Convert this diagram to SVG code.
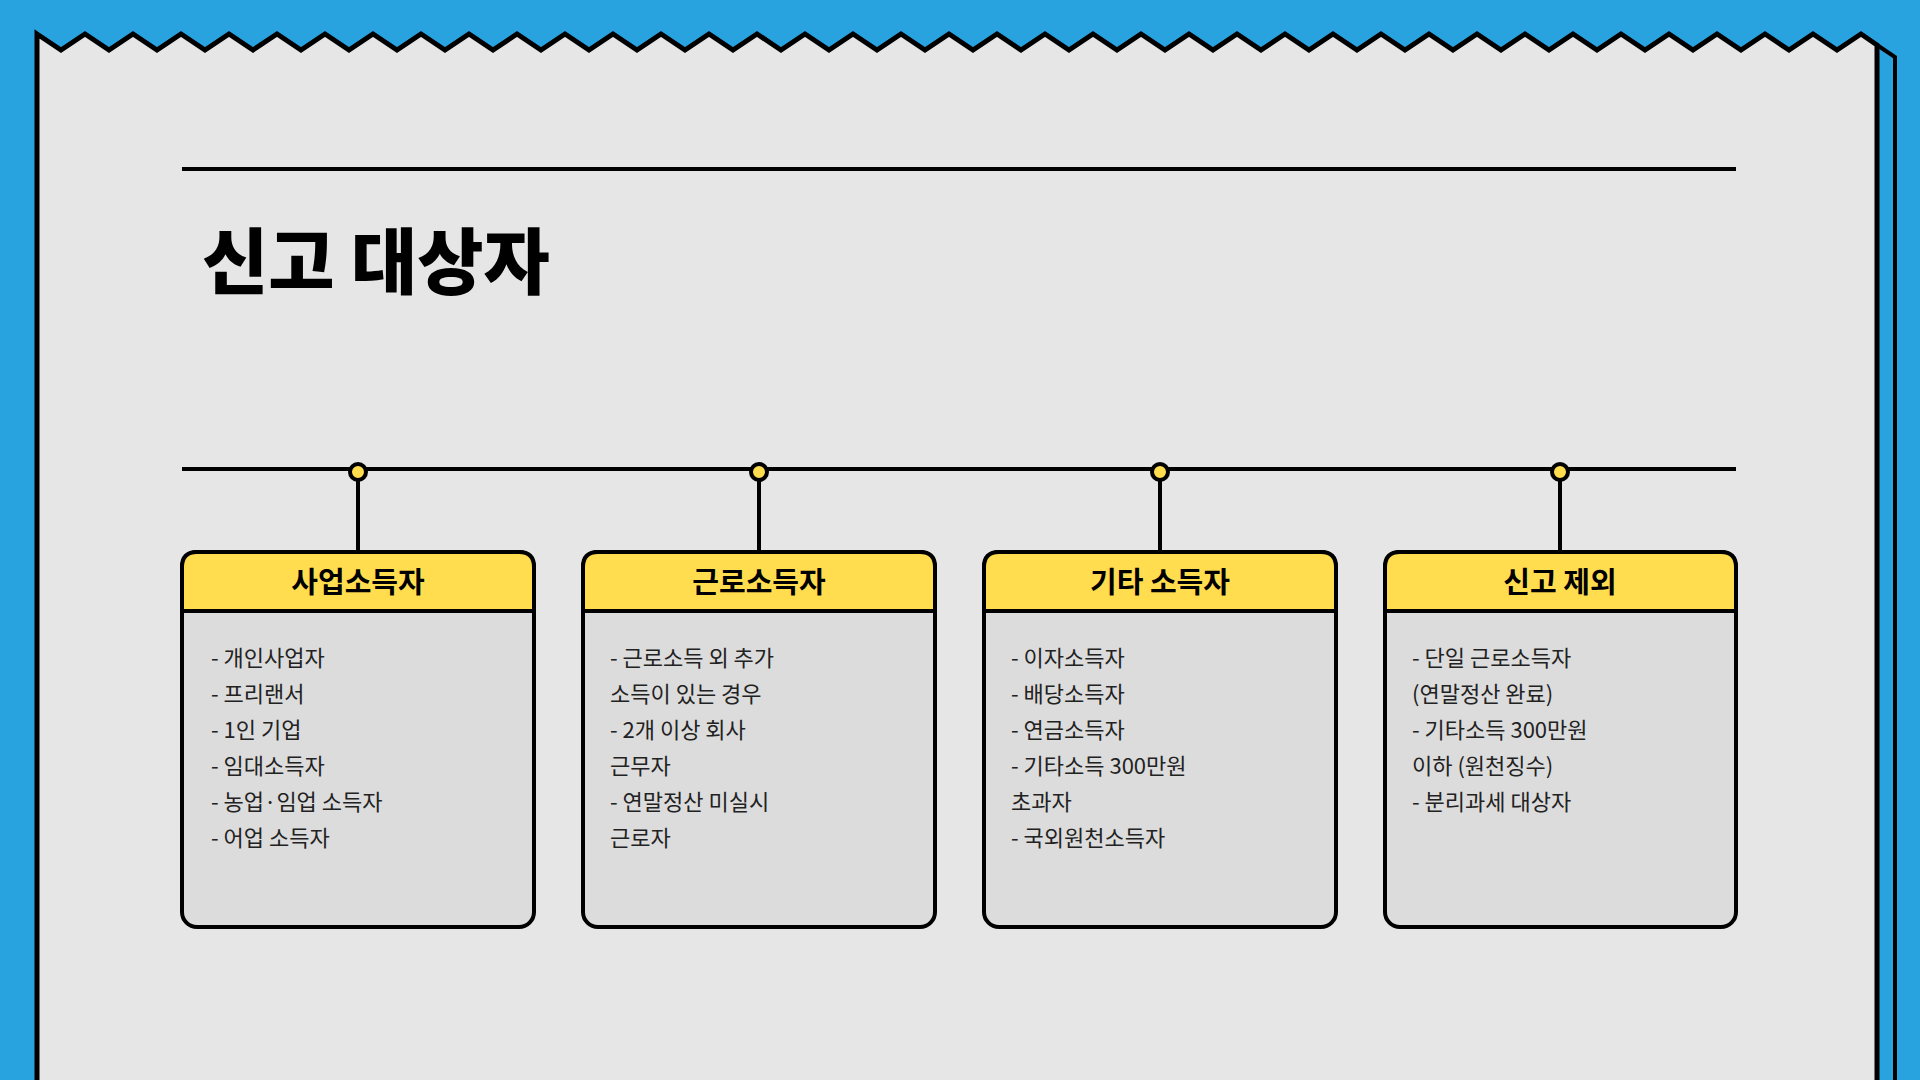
<svg xmlns="http://www.w3.org/2000/svg" width="1920" height="1080" viewBox="0 0 1920 1080">
<style>
.box{fill:#DCDCDC;stroke:#000;stroke-width:4}
.hd{fill:#FFDD4F;stroke:#000;stroke-width:4}
.ht{font-family:"Noto Sans CJK KR","Noto Sans",sans-serif;font-weight:700;font-size:29px;text-anchor:middle;fill:#000}
.bt{font-family:"Noto Sans CJK KR","Noto Sans",sans-serif;font-size:22px;fill:#222}
.ln{stroke:#000;stroke-width:4;fill:none}
.dot{fill:#FFDD4F;stroke:#000;stroke-width:4}
</style>
<rect width="1920" height="1080" fill="#29A3E0"/>
<path d="M1877 45 L1895 57 L1895 1080" class="ln" stroke-width="5"/>
<path id="paper" d="M37 34 L61 50 L85 34 L109 50 L133 34 L157 50 L181 34 L205 50 L229 34 L253 50 L277 34 L301 50 L325 34 L349 50 L373 34 L397 50 L421 34 L445 50 L469 34 L493 50 L517 34 L541 50 L565 34 L589 50 L613 34 L637 50 L661 34 L685 50 L709 34 L733 50 L757 34 L781 50 L805 34 L829 50 L853 34 L877 50 L901 34 L925 50 L949 34 L973 50 L997 34 L1021 50 L1045 34 L1069 50 L1093 34 L1117 50 L1141 34 L1165 50 L1189 34 L1213 50 L1237 34 L1261 50 L1285 34 L1309 50 L1333 34 L1357 50 L1381 34 L1405 50 L1429 34 L1453 50 L1477 34 L1501 50 L1525 34 L1549 50 L1573 34 L1597 50 L1621 34 L1645 50 L1669 34 L1693 50 L1717 34 L1741 50 L1765 34 L1789 50 L1813 34 L1837 50 L1861 34 L1877 45 L1877 1090 L37 1090 Z" fill="#E6E6E6" stroke="#000" stroke-width="5"/>
<line x1="182" y1="169" x2="1736" y2="169" class="ln" stroke-width="5"/>
<text x="202" y="288" font-family="'Noto Sans CJK KR',sans-serif" font-weight="900" font-size="72" fill="#000">신고 대상자</text>
<g id="connectors">
<line x1="182" y1="469" x2="1736" y2="469" class="ln"/>
<line x1="358" y1="472" x2="358" y2="552" class="ln"/>
<line x1="759" y1="472" x2="759" y2="552" class="ln"/>
<line x1="1160" y1="472" x2="1160" y2="552" class="ln"/>
<line x1="1560" y1="472" x2="1560" y2="552" class="ln"/>
<circle cx="358" cy="472" r="8" class="dot"/>
<circle cx="759" cy="472" r="8" class="dot"/>
<circle cx="1160" cy="472" r="8" class="dot"/>
<circle cx="1560" cy="472" r="8" class="dot"/>
</g>
<g id="n1">
<rect x="182" y="552" width="352" height="375" rx="15" class="box"/>
<path d="M182 611 V567 Q182 552 197 552 H519 Q534 552 534 567 V611 Z" class="hd"/>
<text x="358" y="593" class="ht">사업소득자</text>
<text class="bt" x="211" y="666">- 개인사업자</text>
<text class="bt" x="211" y="702">- 프리랜서</text>
<text class="bt" x="211" y="738">- 1인 기업</text>
<text class="bt" x="211" y="774">- 임대소득자</text>
<text class="bt" x="211" y="810">- 농업·임업 소득자</text>
<text class="bt" x="211" y="846">- 어업 소득자</text>
</g>
<g id="n2">
<rect x="583" y="552" width="352" height="375" rx="15" class="box"/>
<path d="M583 611 V567 Q583 552 598 552 H920 Q935 552 935 567 V611 Z" class="hd"/>
<text x="759" y="593" class="ht">근로소득자</text>
<text class="bt" x="610" y="666">- 근로소득 외 추가</text>
<text class="bt" x="610" y="702">소득이 있는 경우</text>
<text class="bt" x="610" y="738">- 2개 이상 회사</text>
<text class="bt" x="610" y="774">근무자</text>
<text class="bt" x="610" y="810">- 연말정산 미실시</text>
<text class="bt" x="610" y="846">근로자</text>
</g>
<g id="n3">
<rect x="984" y="552" width="352" height="375" rx="15" class="box"/>
<path d="M984 611 V567 Q984 552 999 552 H1321 Q1336 552 1336 567 V611 Z" class="hd"/>
<text x="1160" y="593" class="ht">기타 소득자</text>
<text class="bt" x="1011" y="666">- 이자소득자</text>
<text class="bt" x="1011" y="702">- 배당소득자</text>
<text class="bt" x="1011" y="738">- 연금소득자</text>
<text class="bt" x="1011" y="774">- 기타소득 300만원</text>
<text class="bt" x="1011" y="810">초과자</text>
<text class="bt" x="1011" y="846">- 국외원천소득자</text>
</g>
<g id="n4">
<rect x="1385" y="552" width="351" height="375" rx="15" class="box"/>
<path d="M1385 611 V567 Q1385 552 1400 552 H1721 Q1736 552 1736 567 V611 Z" class="hd"/>
<text x="1560" y="593" class="ht">신고 제외</text>
<text class="bt" x="1412" y="666">- 단일 근로소득자</text>
<text class="bt" x="1412" y="702">(연말정산 완료)</text>
<text class="bt" x="1412" y="738">- 기타소득 300만원</text>
<text class="bt" x="1412" y="774">이하 (원천징수)</text>
<text class="bt" x="1412" y="810">- 분리과세 대상자</text>
</g>
</svg>
